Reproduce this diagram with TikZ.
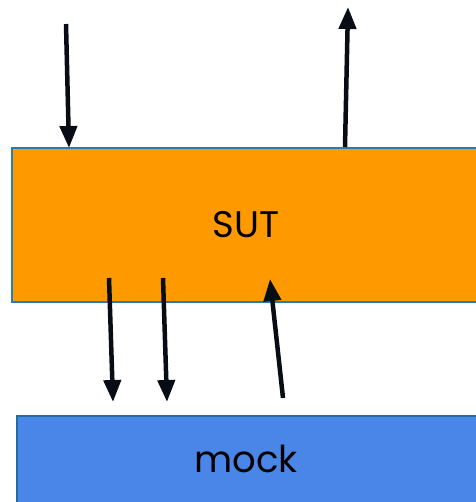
\documentclass[tikz,border=0pt]{standalone}
\usepackage{fontspec}
\setmainfont{Poppins}
\usetikzlibrary{arrows.meta}

\definecolor{sutfill}{RGB}{255,153,0}
\definecolor{sutline}{RGB}{42,122,181}
\definecolor{mockfill}{RGB}{74,134,232}
\definecolor{mockline}{RGB}{28,110,164}

\tikzset{
  flow/.style={line width=4.5pt, color={rgb,255:red,8;green,12;blue,20}, -{Triangle[length=22pt,width=17pt]}},
  boxtext/.style={font=\fontsize{37}{44}\selectfont, text=black, inner sep=0pt}
}

\begin{document}
\begin{tikzpicture}[x=1pt,y=1pt,yscale=-1]
\useasboundingbox (0,0) rectangle (475,502);

%Boxes
\draw [color=sutline, line width=1.5pt, fill=sutfill] (12,148) rectangle (485,302);
\draw [color=mockline, line width=1.5pt, fill=mockfill] (17,416) rectangle (485,512);

% Text Node
\node [boxtext] (sut) at (246,225) {SUT};
% Text Node
\node [boxtext] (mock) at (246,459) {mock};

%Arrow end points
\coordinate (in1) at (66,24);
\coordinate (in1e) at (69,148);
\coordinate (out1) at (345,147);
\coordinate (out1e) at (348,7);
\coordinate (call1) at (109,278);
\coordinate (call1e) at (113,402);
\coordinate (call2) at (163,278);
\coordinate (call2e) at (167,402);
\coordinate (ret1) at (283,398);
\coordinate (ret1e) at (270,279);

%Straight Lines
\draw [flow] (in1) -- (in1e);
\draw [flow] (out1) -- (out1e);
\draw [flow] (call1) -- (call1e);
\draw [flow] (call2) -- (call2e);
\draw [flow] (ret1) -- (ret1e);

\end{tikzpicture}
\end{document}
